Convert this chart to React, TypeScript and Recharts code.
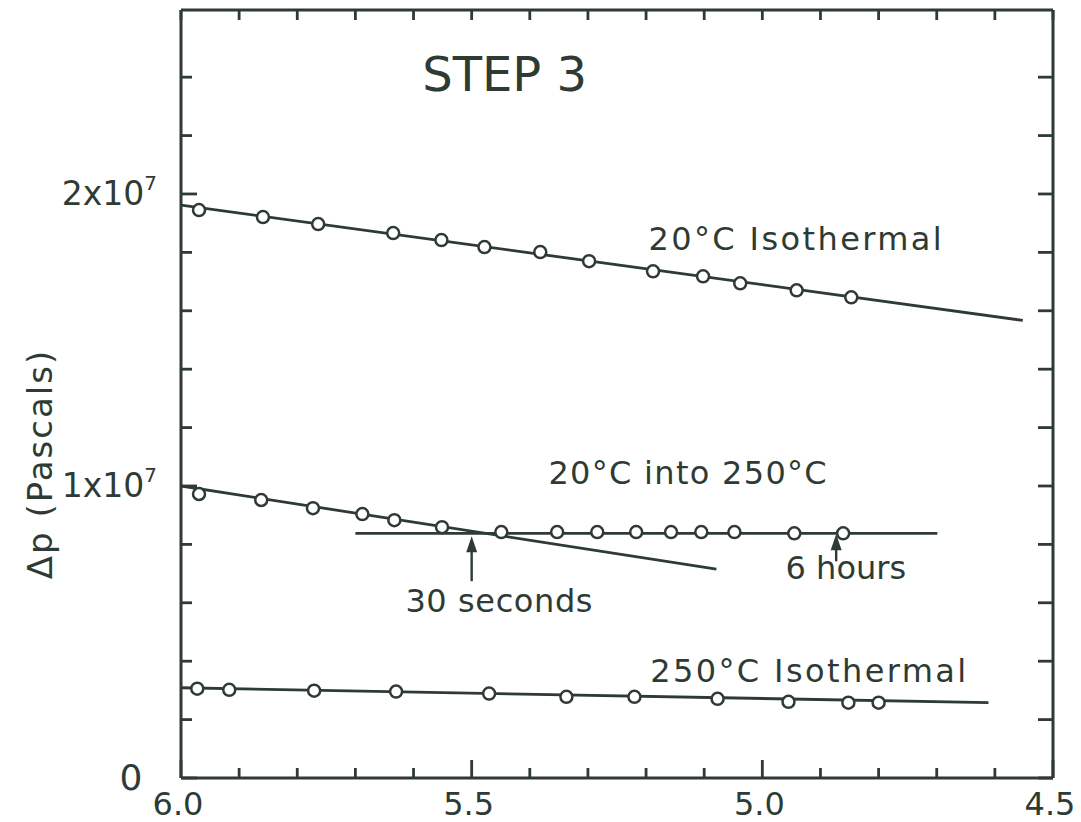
import {
  ComposedChart,
  Line,
  Scatter,
  XAxis,
  YAxis,
  ReferenceLine,
  ReferenceDot,
  Label,
} from "recharts";

const INK = "#2e3b34";
const FONT = "'DejaVu Sans', sans-serif";

// axes (x runs right-to-left, 6.0 at the origin)
const xTicks = [6.0, 5.9, 5.8, 5.7, 5.6, 5.5, 5.4, 5.3, 5.2, 5.1, 5.0, 4.9, 4.8, 4.7, 4.6, 4.5];
const xMajor = [6.0, 5.5, 5.0, 4.5];
const yTicks = [0, 2e6, 4e6, 6e6, 8e6, 1e7, 1.2e7, 1.4e7, 1.6e7, 1.8e7, 2e7, 2.2e7, 2.4e7];
const yLabelled = [0, 1e7, 2e7];
const yLabelText = ["0", "1x10", "2x10"];

// measured points
const iso20X = [5.969, 5.859, 5.764, 5.635, 5.552, 5.478, 5.382, 5.298, 5.188, 5.102, 5.038, 4.941, 4.847];
const iso20Y = [1.945e7, 1.921e7, 1.897e7, 1.866e7, 1.842e7, 1.818e7, 1.801e7, 1.77e7, 1.735e7, 1.718e7, 1.694e7, 1.67e7, 1.646e7];

const into250X = [5.969, 5.862, 5.773, 5.688, 5.633, 5.551, 5.449, 5.353, 5.284, 5.217, 5.157, 5.105, 5.048, 4.945, 4.861];
const into250Y = [0.9725e7, 0.952e7, 0.924e7, 0.904e7, 0.883e7, 0.859e7, 0.842e7, 0.842e7, 0.842e7, 0.842e7, 0.842e7, 0.842e7, 0.842e7, 0.838e7, 0.838e7];

const iso250X = [5.972, 5.917, 5.771, 5.63, 5.47, 5.337, 5.22, 5.077, 4.955, 4.852, 4.8];
const iso250Y = [0.306e7, 0.302e7, 0.299e7, 0.296e7, 0.289e7, 0.278e7, 0.278e7, 0.271e7, 0.261e7, 0.258e7, 0.258e7];

// fitted straight lines
const iso20FitX = [6.0, 4.552];
const iso20FitY = [1.962e7, 1.567e7];
const earlyFitX = [6.0, 5.079];
const earlyFitY = [1.0e7, 0.715e7];
const lateFitX = [5.7, 4.699];
const lateFitY = [0.838e7, 0.838e7];
const iso250FitX = [6.0, 4.611];
const iso250FitY = [0.309e7, 0.258e7];

// annotations
const noteText = ["STEP 3", "20°C Isothermal", "20°C into 250°C", "30 seconds", "6 hours", "250°C Isothermal"];
const noteX = [5.585, 5.196, 5.368, 5.614, 4.96, 5.193];
const noteY = [2.354e7, 1.808e7, 1.007e7, 0.567e7, 0.68e7, 0.33e7];
const noteSize = [48, 32, 32, 32, 32, 32];
const noteSpacing = [0, 2.4, 1.3, 0.6, 0, 2.4];

const arrowX = [5.5, 4.873];
const arrowFromY = [0.674e7, 0.742e7];
const arrowToY = [0.828e7, 0.835e7];

const pts = (xs: number[], ys: number[]) => xs.map((x, i) => ({ x, y: ys[i] }));

const Dot = (p: any) => (
  <circle cx={p.cx} cy={p.cy} r={6} fill="#fff" stroke={INK} strokeWidth={2.5} />
);

function BottomTick({ x, y, payload }: any) {
  const major = xMajor.includes(payload.value);
  return (
    <g>
      <line x1={x} y1={y} x2={x} y2={y - (major ? 18 : 10)} stroke={INK} strokeWidth={2.8} />
      {major && (
        <text x={x - 3} y={y + 37} textAnchor="middle" fontSize={32} fill={INK} fontFamily={FONT}>
          {payload.value.toFixed(1)}
        </text>
      )}
    </g>
  );
}

function TopTick({ x, y }: any) {
  return <line x1={x} y1={y} x2={x} y2={y + 10} stroke={INK} strokeWidth={2.8} />;
}

function LeftTick({ x, y, payload }: any) {
  const idx = yLabelled.indexOf(payload.value);
  return (
    <g>
      <line x1={x} y1={y} x2={x + (idx >= 0 ? 16 : 11)} y2={y} stroke={INK} strokeWidth={2.8} />
      {idx > 0 && (
        <text x={x - 24} y={y + 11} textAnchor="end" fontSize={33} fill={INK} fontFamily={FONT}>
          <tspan>{yLabelText[idx]}</tspan>
          <tspan dy={-15} fontSize={20}>7</tspan>
        </text>
      )}
      {idx === 0 && (
        <text x={x - 50} y={y + 12} textAnchor="middle" fontSize={36} fill={INK} fontFamily={FONT}>
          {yLabelText[idx]}
        </text>
      )}
    </g>
  );
}

function RightTick({ x, y }: any) {
  return <line x1={x} y1={y} x2={x - 15} y2={y} stroke={INK} strokeWidth={2.8} />;
}

const YTitle = ({ viewBox }: any) => {
  const cx = viewBox.x + 40;
  const cy = viewBox.y + viewBox.height / 2 + 70;
  return (
    <text
      x={cx}
      y={cy}
      transform={`rotate(-90 ${cx} ${cy})`}
      textAnchor="middle"
      dominantBaseline="central"
      fontSize={34}
      fill={INK}
      fontFamily={FONT}
      letterSpacing={2}
    >
      Δp (Pascals)
    </text>
  );
};

const Arrow = (p: any) => (
  <g>
    <line x1={p.x1} y1={p.y1} x2={p.x2} y2={p.y2 + 8} stroke={INK} strokeWidth={2.4} />
    <polygon
      points={`${p.x2},${p.y2} ${p.x2 - 5.5},${p.y2 + 16} ${p.x2 + 5.5},${p.y2 + 16}`}
      fill={INK}
    />
  </g>
);

const axisLine = { stroke: INK, strokeWidth: 3 };
const fitStyle = { stroke: INK, strokeWidth: 2.8 };

export default function App() {
  return (
    <div style={{ position: "absolute", left: 0, top: 0, background: "#fff" }}>
      <ComposedChart width={1081} height={822} margin={{ top: 0, right: 0, bottom: 0, left: 0 }}>
        <XAxis
          xAxisId="b"
          type="number"
          dataKey="x"
          domain={[4.5, 6.0]}
          reversed
          ticks={xTicks}
          interval={0}
          tickLine={false}
          tickSize={0}
          tickMargin={0}
          height={44}
          axisLine={axisLine}
          tick={(p: any) => <BottomTick {...p} />}
          allowDataOverflow
        />
        <XAxis
          xAxisId="t"
          orientation="top"
          type="number"
          dataKey="x"
          domain={[4.5, 6.0]}
          reversed
          ticks={xTicks}
          interval={0}
          tickLine={false}
          tickSize={0}
          tickMargin={0}
          height={10}
          axisLine={axisLine}
          tick={(p: any) => <TopTick {...p} />}
          allowDataOverflow
        />
        <YAxis
          yAxisId="l"
          type="number"
          domain={[0, 2.63e7]}
          ticks={yTicks}
          interval={0}
          tickLine={false}
          tickSize={0}
          tickMargin={0}
          width={181}
          axisLine={axisLine}
          tick={(p: any) => <LeftTick {...p} />}
          allowDataOverflow
        >
          <Label content={YTitle} />
        </YAxis>
        <YAxis
          yAxisId="r"
          orientation="right"
          type="number"
          domain={[0, 2.63e7]}
          ticks={yTicks}
          interval={0}
          tickLine={false}
          tickSize={0}
          tickMargin={0}
          width={28}
          axisLine={axisLine}
          tick={(p: any) => <RightTick {...p} />}
          allowDataOverflow
        />

        <Line xAxisId="b" yAxisId="l" data={pts(iso20FitX, iso20FitY)} dataKey="y" {...fitStyle} dot={false} isAnimationActive={false} />
        <Line xAxisId="b" yAxisId="l" data={pts(earlyFitX, earlyFitY)} dataKey="y" {...fitStyle} dot={false} isAnimationActive={false} />
        <Line xAxisId="b" yAxisId="l" data={pts(lateFitX, lateFitY)} dataKey="y" {...fitStyle} dot={false} isAnimationActive={false} />
        <Line xAxisId="b" yAxisId="l" data={pts(iso250FitX, iso250FitY)} dataKey="y" {...fitStyle} dot={false} isAnimationActive={false} />

        <Scatter xAxisId="b" yAxisId="l" data={pts(iso20X, iso20Y)} dataKey="y" shape={Dot} isAnimationActive={false} />
        <Scatter xAxisId="b" yAxisId="l" data={pts(into250X, into250Y)} dataKey="y" shape={Dot} isAnimationActive={false} />
        <Scatter xAxisId="b" yAxisId="l" data={pts(iso250X, iso250Y)} dataKey="y" shape={Dot} isAnimationActive={false} />

        {arrowX.map((x, i) => (
          <ReferenceLine
            key={`arrow-${i}`}
            xAxisId="b"
            yAxisId="l"
            segment={[
              { x, y: arrowFromY[i] },
              { x, y: arrowToY[i] },
            ]}
            shape={Arrow}
          />
        ))}

        {noteText.map((t, i) => (
          <ReferenceDot
            key={`note-${i}`}
            xAxisId="b"
            yAxisId="l"
            x={noteX[i]}
            y={noteY[i]}
            r={0}
            shape={(p: any) => (
              <text
                x={p.cx}
                y={p.cy}
                fontSize={noteSize[i]}
                letterSpacing={noteSpacing[i]}
                fill={INK}
                fontFamily={FONT}
              >
                {t}
              </text>
            )}
          />
        ))}
      </ComposedChart>
    </div>
  );
}
